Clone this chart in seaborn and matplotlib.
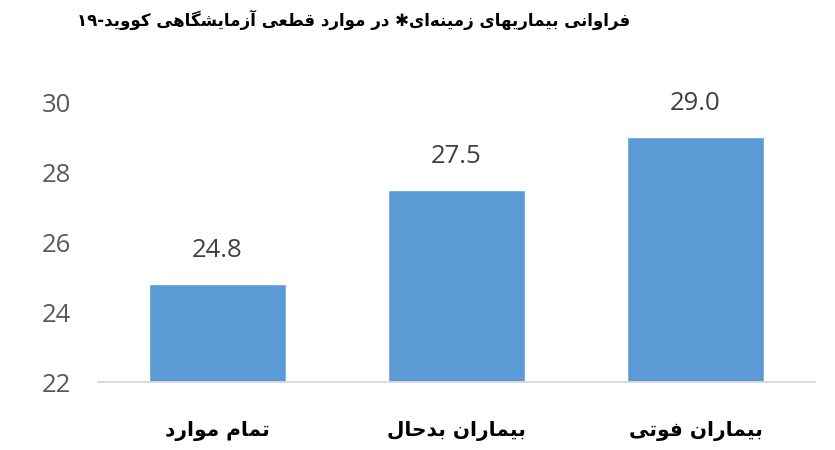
import matplotlib
matplotlib.use("Agg")
import numpy as np
import pandas as pd
import seaborn as sns
import matplotlib.pyplot as plt
from matplotlib import font_manager
from matplotlib.font_manager import FontProperties
from matplotlib.ft2font import FT2Font

# ---------------- data ----------------
categories = ["تمام موارد", "بیماران بدحال", "بیماران فوتی"]
values = [24.8, 27.5, 29.0]
value_labels = ["24.8", "27.5", "29.0"]
y_ticks = [22, 24, 26, 28, 30]
title_text = "فراوانی بیماریهای زمینه\u200cای✱ در موارد قطعی آزمایشگاهی کووید-۱۹"

# ---------------- minimal Persian shaping ----------------
AR_FONT = "DejaVu Sans"
_fp = FontProperties(family=AR_FONT, weight="bold")
_cmap = set(FT2Font(font_manager.findfont(_fp)).get_charmap().keys())

def _pick(primary, fallback):
    return primary if ord(primary) in _cmap else fallback

# isolated, final, initial, medial
FORMS = {
    "ا": ("\uFE8D", "\uFE8E", None, None),
    "آ": ("\uFE81", "\uFE82", None, None),
    "د": ("\uFEA9", "\uFEAA", None, None),
    "ر": ("\uFEAD", "\uFEAE", None, None),
    "ز": ("\uFEAF", "\uFEB0", None, None),
    "و": ("\uFEED", "\uFEEE", None, None),
    "ب": ("\uFE8F", "\uFE90", "\uFE91", "\uFE92"),
    "ت": ("\uFE95", "\uFE96", "\uFE97", "\uFE98"),
    "ح": ("\uFEA1", "\uFEA2", "\uFEA3", "\uFEA4"),
    "ش": ("\uFEB5", "\uFEB6", "\uFEB7", "\uFEB8"),
    "ط": ("\uFEC1", "\uFEC2", "\uFEC3", "\uFEC4"),
    "ع": ("\uFEC9", "\uFECA", "\uFECB", "\uFECC"),
    "ف": ("\uFED1", "\uFED2", "\uFED3", "\uFED4"),
    "ق": ("\uFED5", "\uFED6", "\uFED7", "\uFED8"),
    "ل": ("\uFEDD", "\uFEDE", "\uFEDF", "\uFEE0"),
    "م": ("\uFEE1", "\uFEE2", "\uFEE3", "\uFEE4"),
    "ن": ("\uFEE5", "\uFEE6", "\uFEE7", "\uFEE8"),
    "ه": ("\uFEE9", "\uFEEA", "\uFEEB", "\uFEEC"),
    "ی": (_pick("\uFBFC", "\uFEEF"), _pick("\uFBFD", "\uFEF0"),
          _pick("\uFBFE", "\uFEF3"), _pick("\uFBFF", "\uFEF4")),
    "ک": (_pick("\uFB8E", "\uFED9"), _pick("\uFB8F", "\uFEDA"),
          _pick("\uFB90", "\uFEDB"), _pick("\uFB91", "\uFEDC")),
    "گ": (_pick("\uFB92", "\uFED9"), _pick("\uFB93", "\uFEDA"),
          _pick("\uFB94", "\uFEDB"), _pick("\uFB95", "\uFEDC")),
}

def _dual(c):
    return c in FORMS and FORMS[c][2] is not None

def shape(text):
    out = []
    n = len(text)
    for i, c in enumerate(text):
        if c == "\u200c":
            continue
        if c not in FORMS:
            out.append(c)
            continue
        prev = text[i - 1] if i > 0 else ""
        nxt = text[i + 1] if i + 1 < n else ""
        j_prev = _dual(prev)
        j_next = _dual(c) and (nxt in FORMS)
        iso, fin, ini, med = FORMS[c]
        if j_prev and j_next:
            g = med
        elif j_prev:
            g = fin
        elif j_next:
            g = ini
        else:
            g = iso
        out.append(g)
    # visual order: reverse, keeping digit runs LTR
    runs = []
    for ch in out:
        is_digit = ch.isdigit()
        if runs and is_digit and runs[-1][0]:
            runs[-1][1].append(ch)
        else:
            runs.append([is_digit, [ch]])
    return "".join("".join(r[1]) for r in reversed(runs))

# ---------------- plot ----------------
sns.set_theme(style="white")
plt.rcParams["font.family"] = ["DejaVu Sans"]

df = pd.DataFrame({"cat": [shape(c) for c in categories], "val": values})

fig = plt.figure(figsize=(8.35, 4.5), dpi=100)
ax = fig.add_axes([98 / 835, 1 - 382 / 450, 717 / 835, 280 / 450])

sns.barplot(data=df, x="cat", y="val", color="#5B9BD5", saturation=1,
            width=0.57, ax=ax)
# bars start from axis floor of 22
for p in ax.patches:
    h = p.get_height()
    p.set_y(22)
    p.set_height(h - 22)

ax.set_ylim(22, 30)
ax.set_xlim(-0.5, 2.5)
ax.set_yticks(y_ticks)
ax.set_yticklabels([str(t) for t in y_ticks], color="#595959", fontsize=18.5,
                   family="Open Sans")
ax.tick_params(axis="y", length=0, pad=19.5)
ax.tick_params(axis="x", length=0, pad=28)
for lab in ax.get_xticklabels():
    lab.set_fontproperties(FontProperties(family=AR_FONT, weight="bold", size=14.5))
    lab.set_color("black")
ax.set_xlabel("")
ax.set_ylabel("")
for s in ["top", "right", "left"]:
    ax.spines[s].set_visible(False)
ax.spines["bottom"].set_color("#D9D9D9")
ax.spines["bottom"].set_linewidth(1.3)

for i, (v, lbl) in enumerate(zip(values, value_labels)):
    ax.annotate(lbl, (i, v), xytext=(0, 24), textcoords="offset points",
                ha="center", va="center", fontsize=18.5, color="#404040",
                family="Open Sans")

fig.text(630 / 835, 1 - 20 / 450, shape(title_text), ha="right", va="center",
         fontproperties=FontProperties(family=AR_FONT, weight="bold", size=12),
         color="black")

fig.savefig("out.png", dpi=100, facecolor="white")
